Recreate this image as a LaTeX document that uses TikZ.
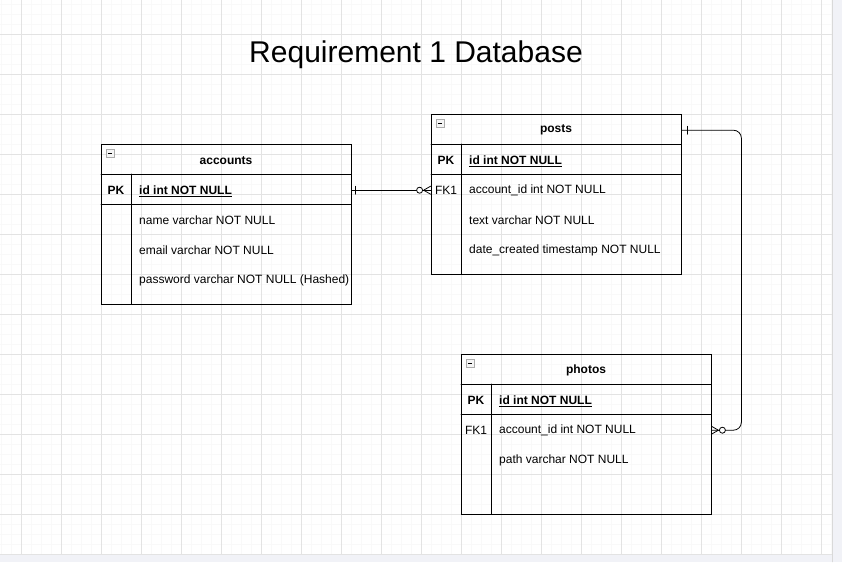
\documentclass[tikz,border=0pt]{standalone}
\usepackage{fontspec}
\setmainfont{Liberation Sans}
\usepackage{xcolor}

\definecolor{stripbg}{HTML}{F1F2F7}

\begin{document}
\begin{tikzpicture}[x=1pt,y=-1pt,font=\fontsize{12}{14}\selectfont,line cap=round,
  tbl/.style={draw=black,line width=0.8pt,minimum width=250pt,minimum height=160pt,inner sep=0pt},
  tblline/.style={black,line width=0.8pt},
  txt/.style={yshift=-1.2pt},
  cell/.style={txt,anchor=west,inner sep=0pt},
  key/.style={txt,font=\fontsize{12}{14}\selectfont\bfseries},
  hdr/.style={txt,font=\fontsize{12}{14}\selectfont\bfseries},
  title/.style={font=\fontsize{30}{36}\selectfont},
  foldbox/.style={draw=gray!65,fill=gray!8,line width=0.5pt,minimum size=8pt,inner sep=0pt},
  minor/.style={gray!5,line width=0.5pt},
  major/.style={gray!22,line width=0.6pt},
  rel/.style={black,line width=0.8pt}]
\useasboundingbox (0,0) rectangle (842,562);
\fill[white] (0,0) rectangle (842,562);
% grid
\foreach \gx in {1,11,...,831} \draw[minor] (\gx,0) -- (\gx,554);
\foreach \gy in {4,14,...,554} \draw[minor] (0,\gy) -- (832,\gy);
\foreach \gx in {21,61,...,821} \draw[major] (\gx,0) -- (\gx,554);
\foreach \gy in {34,74,...,554} \draw[major] (0,\gy) -- (832,\gy);
\fill[stripbg] (832,0) rectangle (842,562);
\fill[stripbg] (0,555) rectangle (832,562);
\draw[gray!30] (832,0) -- (832,562);

\node[title] (title) at (416,55) {Requirement 1 Database};

% accounts
\node[tbl] (accounts) at (226,224) {};
\draw[tblline] (101,174) -- (351,174);
\draw[tblline] (101,204) -- (351,204);
\draw[tblline] (131,174) -- (131,304);
\node[foldbox] (accfold) at (110,153) {\rule{4.5pt}{0.6pt}};
\node[hdr] (acchead) at (226,159) {accounts};
\node[key] (accpk) at (116,189) {PK};
\node[cell,key] (accid) at (139,189) {\underline{id int NOT NULL}};
\node[cell] (accname) at (139,219) {name varchar NOT NULL};
\node[cell] (accemail) at (139,249) {email varchar NOT NULL};
\node[cell] (accpass) at (139,279) {password varchar NOT NULL (Hashed)};

% posts
\node[tbl] (posts) at (556,194) {};
\draw[tblline] (431,144) -- (681,144);
\draw[tblline] (431,174) -- (681,174);
\draw[tblline] (461,144) -- (461,274);
\node[foldbox] (postsfold) at (440,123) {\rule{4.5pt}{0.6pt}};
\node[hdr] (postshead) at (556,129) {posts};
\node[key] (postspk) at (446,159) {PK};
\node[cell,key] (postsid) at (469,159) {\underline{id int NOT NULL}};
\node[txt] (postsfklbl) at (446,189) {FK1};
\node[cell] (postsfk) at (469,189) {account\_id int NOT NULL};
\node[cell] (poststext) at (469,219) {text varchar NOT NULL};
\node[cell] (postsdate) at (469,249) {date\_created timestamp NOT NULL};

% photos
\node[tbl] (photos) at (586,434) {};
\draw[tblline] (461,384) -- (711,384);
\draw[tblline] (461,414) -- (711,414);
\draw[tblline] (491,384) -- (491,514);
\node[foldbox] (photosfold) at (470,363) {\rule{4.5pt}{0.6pt}};
\node[hdr] (photoshead) at (586,369) {photos};
\node[key] (photospk) at (476,399) {PK};
\node[cell,key] (photosid) at (499,399) {\underline{id int NOT NULL}};
\node[txt] (photosfklbl) at (476,429) {FK1};
\node[cell] (photosfk) at (499,429) {account\_id int NOT NULL};
\node[cell] (photospath) at (499,459) {path varchar NOT NULL};

% accounts -> posts
\coordinate (accend) at (accounts.east |- postsfk);
\coordinate (postsend) at (posts.west |- postsfk);
\draw[rel] (accend) -- (postsend);
\draw[rel] (accend) ++(4,-4) -- ++(0,8);
\draw[rel] (postsend) ++(-7,0) -- ++(7,-4) (postsend) ++(-7,0) -- ++(7,4);
\draw[rel,fill=white] (postsend) ++(-11,0) circle[radius=3pt];

% posts -> photos
\coordinate (headend) at (posts.east |- postshead);
\coordinate (photosend) at (photos.east |- photosfk);
\draw[rel,rounded corners=8pt] (headend) -- ++(60,0) |- (photosend);
\draw[rel] (headend) ++(6,-4) -- ++(0,8);
\draw[rel] (photosend) ++(7,0) -- ++(-7,-4) (photosend) ++(7,0) -- ++(-7,4);
\draw[rel,fill=white] (photosend) ++(11,0) circle[radius=3pt];
\end{tikzpicture}
\end{document}
